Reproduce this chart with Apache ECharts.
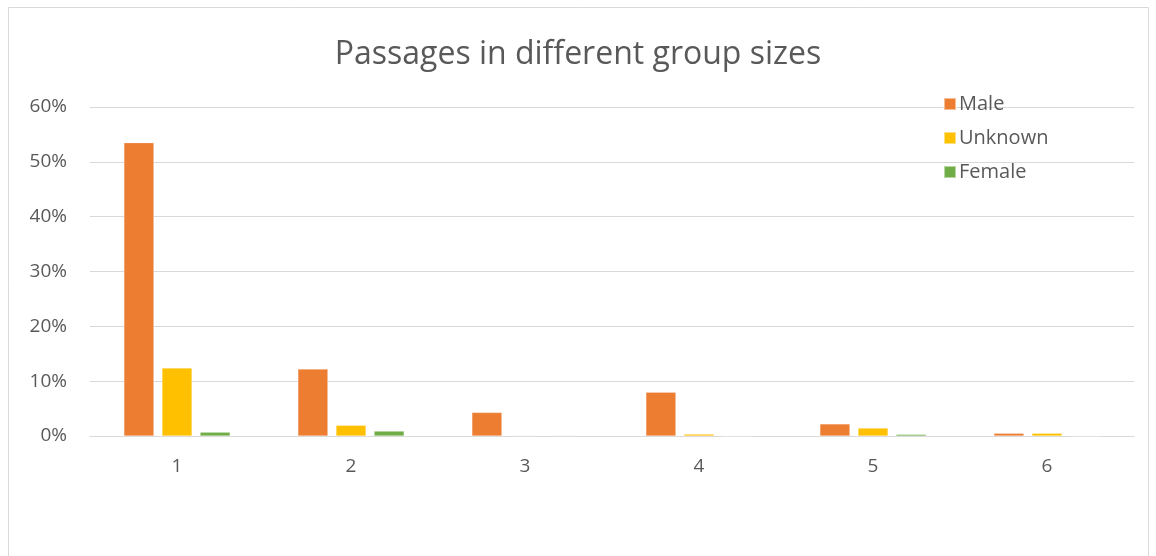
<!DOCTYPE html>
<html><head><meta charset="utf-8">
<script src="https://cdn.jsdelivr.net/npm/echarts@6/dist/echarts.min.js"></script>
<style>html,body{margin:0;padding:0;background:#fff}#c{width:1156px;height:556px}</style>
</head><body><div id="c"></div>
<script>
const categories = ['1','2','3','4','5','6'];
const male = [53.5, 12.2, 4.3, 8.0, 2.2, 0.5];
const unknown = [12.4, 1.95, 0.1, 0.35, 1.45, 0.5];
const female = [0.7, 0.9, 0.1, 0, 0.3, 0];
const yTicks = [0, 10, 20, 30, 40, 50, 60];

const font = '"Open Sans", sans-serif';
const chart = echarts.init(document.getElementById('c'));
const mk = (name, data, color) => ({
  name, type: 'bar', data, barWidth: 30, barGap: '27%',
  itemStyle: { color, borderColor: 'rgba(255,255,255,0.5)', borderWidth: 0.5 }
});
chart.setOption({
  animation: false,
  backgroundColor: '#fff',
  graphic: [{ type: 'rect', shape: { x: 8.5, y: 7.5, width: 1140, height: 600 },
    style: { fill: 'none', stroke: '#d9d9d9', lineWidth: 1 }, silent: true }],
  title: { text: 'Passages in different group sizes', left: 'center', top: 34,
    textStyle: { fontFamily: font, fontSize: 32, fontWeight: 'normal', color: '#595959' } },
  legend: { orient: 'vertical', left: 938, top: 89, itemWidth: 12, itemHeight: 12, itemGap: 14,
    icon: 'rect',
    textStyle: { fontFamily: font, fontSize: 20, color: '#595959', padding: [0,0,0,-2] },
    data: ['Male', 'Unknown', 'Female'] },
  grid: { left: 90, right: 22, top: 107, bottom: 120, containLabel: false },
  xAxis: { type: 'category', data: categories,
    axisLine: { lineStyle: { color: '#d9d9d9', width: 1 } }, axisTick: { show: false },
    axisLabel: { fontFamily: font, fontSize: 19, color: '#595959', margin: 21 } },
  yAxis: { type: 'value', min: yTicks[0], max: yTicks[yTicks.length-1], interval: 10,
    axisLine: { show: false }, axisTick: { show: false },
    splitLine: { lineStyle: { color: '#d9d9d9', width: 1 } },
    axisLabel: { fontFamily: font, fontSize: 19, color: '#595959', margin: 23, formatter: v => v + '%' } },
  series: [mk('Male', male, '#ed7d31'), mk('Unknown', unknown, '#ffc000'), mk('Female', female, '#70ad47')]
});
</script></body></html>
